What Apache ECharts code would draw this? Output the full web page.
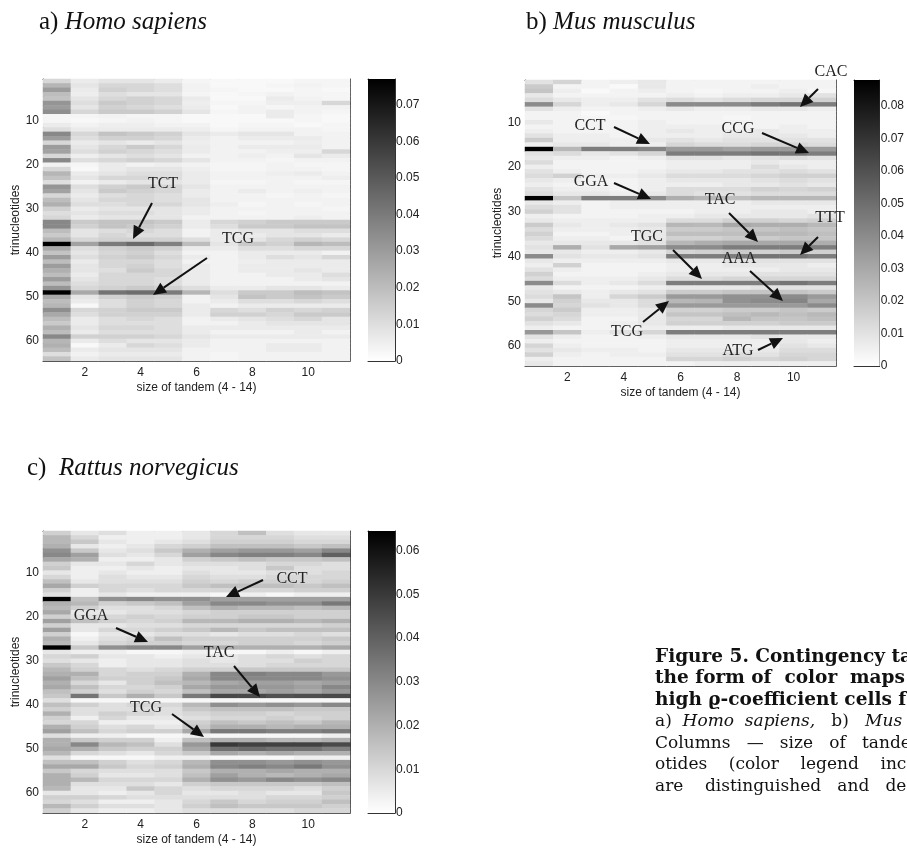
<!DOCTYPE html>
<html><head><meta charset="utf-8">
<script src="https://cdn.jsdelivr.net/npm/echarts@6/dist/echarts.min.js"></script>
<style>html,body{margin:0;padding:0;background:#fff}#c{width:907px;height:848px}</style>
</head><body><div id="c"></div>
<script>
// ---------------- DATA ----------------
const sizeCategories = ['1','2','3','4','5','6','7','8','9','10','11'];
const trinucleotideCategories = ['1','2','3','4','5','6','7','8','9','10','11','12','13','14','15','16','17','18','19','20','21','22','23','24','25','26','27','28','29','30','31','32','33','34','35','36','37','38','39','40','41','42','43','44','45','46','47','48','49','50','51','52','53','54','55','56','57','58','59','60','61','62','63','64'];

const homoMax = 0.077;
const musMax = 0.088;
const rattusMax = 0.0645;

const homoSapiens = [
[0.012,0.006,0.008,0.008,0.006,0.003,0.002,0.002,0.002,0.003,0.003],
[0.022,0.008,0.012,0.012,0.010,0.004,0.002,0.002,0.003,0.004,0.003],
[0.030,0.006,0.014,0.012,0.010,0.004,0.003,0.002,0.002,0.003,0.002],
[0.020,0.005,0.010,0.008,0.008,0.003,0.002,0.003,0.004,0.003,0.003],
[0.018,0.008,0.012,0.014,0.012,0.006,0.002,0.002,0.006,0.004,0.003],
[0.032,0.010,0.016,0.014,0.012,0.005,0.003,0.003,0.005,0.005,0.012],
[0.030,0.008,0.014,0.012,0.010,0.006,0.002,0.004,0.003,0.004,0.004],
[0.034,0.012,0.016,0.016,0.014,0.008,0.003,0.004,0.006,0.004,0.003],
[0.003,0.003,0.004,0.003,0.003,0.002,0.002,0.002,0.006,0.003,0.002],
[0.003,0.002,0.003,0.004,0.003,0.002,0.002,0.002,0.002,0.003,0.002],
[0.006,0.004,0.005,0.005,0.004,0.004,0.002,0.003,0.003,0.002,0.003],
[0.010,0.006,0.006,0.006,0.006,0.005,0.003,0.004,0.004,0.004,0.003],
[0.036,0.012,0.018,0.016,0.014,0.008,0.006,0.008,0.008,0.004,0.004],
[0.030,0.010,0.014,0.014,0.012,0.006,0.004,0.006,0.006,0.006,0.004],
[0.012,0.006,0.008,0.006,0.008,0.005,0.004,0.004,0.004,0.005,0.004],
[0.030,0.008,0.012,0.016,0.012,0.006,0.004,0.006,0.006,0.006,0.004],
[0.028,0.010,0.014,0.012,0.010,0.006,0.004,0.004,0.005,0.005,0.012],
[0.012,0.005,0.008,0.010,0.008,0.004,0.004,0.005,0.004,0.008,0.006],
[0.036,0.010,0.012,0.014,0.012,0.008,0.004,0.004,0.003,0.004,0.004],
[0.004,0.003,0.006,0.004,0.005,0.004,0.003,0.003,0.004,0.003,0.003],
[0.012,0.002,0.006,0.008,0.008,0.005,0.003,0.003,0.004,0.004,0.003],
[0.022,0.006,0.008,0.010,0.010,0.006,0.004,0.004,0.005,0.006,0.004],
[0.018,0.008,0.012,0.012,0.010,0.006,0.004,0.004,0.004,0.004,0.005],
[0.010,0.004,0.006,0.008,0.008,0.006,0.003,0.003,0.004,0.003,0.003],
[0.032,0.010,0.014,0.016,0.012,0.008,0.004,0.004,0.004,0.004,0.004],
[0.028,0.008,0.016,0.014,0.012,0.006,0.004,0.006,0.004,0.005,0.004],
[0.012,0.006,0.010,0.012,0.010,0.006,0.004,0.004,0.003,0.004,0.003],
[0.020,0.008,0.012,0.012,0.010,0.008,0.004,0.004,0.004,0.004,0.004],
[0.024,0.010,0.010,0.012,0.012,0.008,0.005,0.003,0.004,0.003,0.004],
[0.014,0.006,0.008,0.008,0.008,0.006,0.004,0.004,0.004,0.004,0.003],
[0.010,0.008,0.010,0.010,0.008,0.006,0.004,0.003,0.004,0.004,0.004],
[0.012,0.006,0.008,0.008,0.008,0.004,0.004,0.004,0.004,0.005,0.004],
[0.036,0.016,0.018,0.018,0.016,0.006,0.012,0.014,0.016,0.016,0.016],
[0.036,0.014,0.018,0.016,0.014,0.006,0.010,0.016,0.016,0.018,0.018],
[0.020,0.008,0.010,0.012,0.010,0.004,0.006,0.008,0.008,0.010,0.010],
[0.016,0.008,0.012,0.010,0.010,0.004,0.006,0.006,0.008,0.008,0.006],
[0.022,0.012,0.014,0.014,0.014,0.010,0.006,0.008,0.012,0.014,0.012],
[0.077,0.028,0.040,0.045,0.038,0.020,0.008,0.016,0.014,0.022,0.020],
[0.026,0.010,0.014,0.016,0.014,0.006,0.006,0.010,0.010,0.012,0.012],
[0.018,0.008,0.012,0.014,0.010,0.004,0.004,0.006,0.006,0.006,0.004],
[0.030,0.010,0.014,0.016,0.012,0.006,0.004,0.006,0.010,0.008,0.012],
[0.020,0.006,0.012,0.012,0.010,0.004,0.004,0.005,0.006,0.006,0.006],
[0.030,0.008,0.012,0.014,0.010,0.006,0.004,0.006,0.006,0.006,0.006],
[0.024,0.008,0.010,0.016,0.012,0.006,0.004,0.006,0.006,0.008,0.006],
[0.020,0.006,0.012,0.012,0.012,0.006,0.004,0.004,0.006,0.006,0.010],
[0.030,0.008,0.012,0.012,0.010,0.006,0.004,0.004,0.004,0.006,0.008],
[0.020,0.010,0.012,0.012,0.010,0.006,0.004,0.004,0.004,0.004,0.004],
[0.032,0.012,0.014,0.016,0.014,0.010,0.006,0.006,0.008,0.008,0.006],
[0.077,0.026,0.042,0.044,0.040,0.022,0.010,0.016,0.016,0.020,0.018],
[0.026,0.008,0.014,0.016,0.014,0.004,0.008,0.018,0.016,0.018,0.016],
[0.020,0.006,0.010,0.014,0.012,0.004,0.006,0.010,0.010,0.012,0.010],
[0.022,0.002,0.010,0.014,0.012,0.006,0.004,0.006,0.006,0.006,0.006],
[0.034,0.012,0.014,0.016,0.016,0.006,0.012,0.010,0.014,0.012,0.014],
[0.026,0.010,0.014,0.014,0.014,0.006,0.014,0.014,0.012,0.016,0.016],
[0.020,0.006,0.010,0.012,0.010,0.004,0.006,0.008,0.010,0.012,0.008],
[0.016,0.006,0.010,0.010,0.010,0.004,0.004,0.006,0.008,0.008,0.008],
[0.024,0.008,0.012,0.012,0.010,0.006,0.006,0.006,0.006,0.006,0.006],
[0.020,0.006,0.010,0.010,0.010,0.006,0.004,0.004,0.004,0.006,0.004],
[0.036,0.014,0.014,0.014,0.012,0.008,0.006,0.006,0.006,0.006,0.006],
[0.022,0.006,0.010,0.008,0.008,0.006,0.004,0.004,0.004,0.004,0.004],
[0.024,0.002,0.006,0.012,0.010,0.006,0.004,0.004,0.006,0.006,0.004],
[0.020,0.006,0.008,0.008,0.008,0.004,0.004,0.004,0.006,0.006,0.004],
[0.010,0.004,0.006,0.006,0.006,0.004,0.003,0.004,0.004,0.004,0.004],
[0.018,0.006,0.008,0.008,0.008,0.004,0.003,0.004,0.004,0.004,0.004]
];

const musMusculus = [
[0.010,0.015,0.004,0.006,0.008,0.004,0.004,0.004,0.004,0.004,0.004],
[0.018,0.004,0.004,0.002,0.008,0.004,0.004,0.004,0.006,0.004,0.004],
[0.020,0.006,0.002,0.004,0.006,0.004,0.003,0.004,0.004,0.006,0.003],
[0.008,0.004,0.004,0.004,0.004,0.006,0.004,0.006,0.006,0.008,0.010],
[0.012,0.008,0.006,0.006,0.010,0.012,0.010,0.012,0.014,0.014,0.016],
[0.040,0.014,0.006,0.008,0.014,0.040,0.040,0.040,0.045,0.048,0.045],
[0.010,0.006,0.004,0.004,0.006,0.008,0.006,0.006,0.008,0.008,0.006],
[0.004,0.004,0.002,0.004,0.004,0.004,0.004,0.004,0.004,0.004,0.004],
[0.004,0.004,0.003,0.003,0.004,0.004,0.004,0.003,0.004,0.004,0.004],
[0.008,0.004,0.004,0.004,0.006,0.004,0.004,0.004,0.004,0.004,0.004],
[0.004,0.004,0.004,0.004,0.006,0.006,0.006,0.004,0.004,0.006,0.004],
[0.006,0.004,0.004,0.004,0.006,0.008,0.006,0.006,0.008,0.006,0.006],
[0.010,0.006,0.006,0.004,0.006,0.006,0.006,0.008,0.008,0.008,0.006],
[0.018,0.006,0.006,0.006,0.008,0.010,0.008,0.010,0.010,0.010,0.010],
[0.006,0.008,0.008,0.006,0.006,0.014,0.012,0.012,0.014,0.014,0.012],
[0.088,0.025,0.045,0.045,0.042,0.035,0.035,0.032,0.035,0.035,0.035],
[0.010,0.012,0.008,0.010,0.014,0.045,0.045,0.045,0.048,0.048,0.045],
[0.008,0.006,0.006,0.004,0.006,0.010,0.010,0.008,0.010,0.012,0.010],
[0.012,0.004,0.004,0.004,0.004,0.006,0.006,0.006,0.008,0.006,0.006],
[0.006,0.004,0.004,0.004,0.004,0.006,0.006,0.006,0.012,0.008,0.006],
[0.010,0.006,0.004,0.004,0.006,0.008,0.008,0.010,0.010,0.012,0.010],
[0.012,0.016,0.006,0.006,0.008,0.012,0.012,0.012,0.014,0.016,0.016],
[0.008,0.006,0.004,0.004,0.006,0.008,0.008,0.008,0.010,0.012,0.010],
[0.006,0.004,0.004,0.004,0.006,0.006,0.006,0.008,0.008,0.010,0.008],
[0.010,0.006,0.006,0.004,0.006,0.012,0.012,0.012,0.016,0.014,0.016],
[0.012,0.008,0.008,0.006,0.008,0.012,0.010,0.010,0.012,0.012,0.012],
[0.088,0.020,0.045,0.045,0.040,0.028,0.025,0.022,0.025,0.025,0.025],
[0.008,0.006,0.004,0.006,0.006,0.006,0.006,0.006,0.008,0.008,0.008],
[0.012,0.010,0.004,0.006,0.006,0.006,0.006,0.006,0.006,0.006,0.006],
[0.016,0.010,0.004,0.004,0.004,0.004,0.006,0.006,0.008,0.008,0.006],
[0.006,0.004,0.004,0.004,0.006,0.006,0.008,0.008,0.008,0.008,0.010],
[0.008,0.006,0.006,0.006,0.006,0.012,0.012,0.016,0.016,0.014,0.016],
[0.018,0.008,0.006,0.008,0.010,0.025,0.024,0.030,0.028,0.028,0.024],
[0.012,0.006,0.006,0.006,0.008,0.018,0.018,0.020,0.020,0.022,0.020],
[0.016,0.004,0.004,0.006,0.008,0.022,0.022,0.022,0.024,0.024,0.022],
[0.012,0.006,0.006,0.004,0.008,0.016,0.016,0.018,0.018,0.020,0.020],
[0.008,0.008,0.008,0.008,0.010,0.025,0.028,0.030,0.030,0.030,0.028],
[0.010,0.028,0.010,0.030,0.032,0.040,0.040,0.045,0.045,0.045,0.045],
[0.008,0.008,0.006,0.006,0.008,0.014,0.016,0.018,0.016,0.018,0.016],
[0.040,0.010,0.008,0.008,0.010,0.045,0.045,0.045,0.048,0.048,0.045],
[0.008,0.006,0.006,0.006,0.006,0.008,0.008,0.010,0.010,0.010,0.010],
[0.006,0.016,0.004,0.004,0.004,0.006,0.006,0.008,0.008,0.008,0.006],
[0.010,0.006,0.004,0.004,0.004,0.006,0.006,0.006,0.006,0.008,0.008],
[0.016,0.004,0.004,0.004,0.006,0.008,0.008,0.008,0.010,0.010,0.010],
[0.012,0.006,0.006,0.006,0.008,0.012,0.012,0.014,0.014,0.014,0.014],
[0.040,0.012,0.006,0.008,0.012,0.045,0.045,0.045,0.045,0.048,0.045],
[0.008,0.004,0.004,0.004,0.006,0.008,0.008,0.008,0.010,0.010,0.010],
[0.010,0.008,0.006,0.008,0.010,0.018,0.018,0.020,0.020,0.020,0.018],
[0.012,0.020,0.006,0.014,0.018,0.035,0.035,0.038,0.038,0.040,0.035],
[0.008,0.016,0.008,0.008,0.012,0.025,0.026,0.038,0.040,0.042,0.030],
[0.040,0.014,0.010,0.008,0.012,0.035,0.035,0.035,0.035,0.035,0.040],
[0.014,0.018,0.006,0.006,0.008,0.016,0.016,0.018,0.018,0.020,0.018],
[0.012,0.014,0.006,0.006,0.008,0.020,0.020,0.022,0.024,0.022,0.024],
[0.016,0.012,0.004,0.004,0.008,0.014,0.014,0.025,0.020,0.020,0.022],
[0.010,0.008,0.004,0.006,0.008,0.016,0.016,0.016,0.016,0.018,0.018],
[0.006,0.004,0.004,0.004,0.006,0.006,0.006,0.008,0.008,0.008,0.008],
[0.036,0.020,0.006,0.010,0.014,0.045,0.045,0.045,0.045,0.045,0.045],
[0.010,0.006,0.004,0.004,0.006,0.008,0.008,0.008,0.010,0.008,0.008],
[0.006,0.004,0.004,0.004,0.004,0.006,0.006,0.006,0.006,0.008,0.006],
[0.014,0.006,0.004,0.004,0.004,0.006,0.006,0.006,0.006,0.010,0.008],
[0.010,0.008,0.006,0.006,0.004,0.008,0.008,0.008,0.008,0.012,0.012],
[0.016,0.006,0.004,0.006,0.006,0.010,0.010,0.012,0.010,0.014,0.014],
[0.006,0.004,0.004,0.004,0.004,0.014,0.014,0.016,0.014,0.016,0.014],
[0.008,0.004,0.004,0.004,0.004,0.004,0.006,0.006,0.006,0.006,0.006]
];

const rattusNorvegicus = [
[0.012,0.006,0.008,0.004,0.004,0.006,0.010,0.016,0.008,0.006,0.006],
[0.018,0.010,0.004,0.004,0.004,0.006,0.010,0.010,0.010,0.008,0.008],
[0.018,0.014,0.006,0.004,0.006,0.008,0.012,0.012,0.012,0.010,0.010],
[0.020,0.006,0.004,0.006,0.010,0.012,0.016,0.016,0.016,0.014,0.016],
[0.028,0.014,0.006,0.008,0.014,0.020,0.024,0.026,0.026,0.024,0.030],
[0.030,0.024,0.008,0.006,0.010,0.024,0.030,0.032,0.032,0.030,0.040],
[0.022,0.020,0.004,0.004,0.006,0.012,0.014,0.016,0.014,0.014,0.016],
[0.012,0.006,0.006,0.010,0.006,0.008,0.008,0.008,0.010,0.010,0.008],
[0.014,0.004,0.004,0.006,0.004,0.006,0.006,0.008,0.014,0.008,0.008],
[0.006,0.004,0.006,0.004,0.004,0.008,0.006,0.006,0.008,0.008,0.010],
[0.010,0.004,0.008,0.006,0.006,0.010,0.008,0.008,0.010,0.010,0.010],
[0.016,0.006,0.008,0.008,0.008,0.012,0.010,0.012,0.012,0.010,0.012],
[0.022,0.012,0.010,0.010,0.010,0.014,0.016,0.016,0.016,0.014,0.016],
[0.012,0.004,0.010,0.008,0.010,0.010,0.010,0.010,0.010,0.012,0.012],
[0.008,0.004,0.006,0.004,0.004,0.004,0.002,0.004,0.002,0.004,0.004],
[0.0645,0.016,0.028,0.030,0.028,0.028,0.024,0.024,0.024,0.024,0.024],
[0.020,0.018,0.012,0.014,0.016,0.024,0.030,0.030,0.028,0.028,0.034],
[0.018,0.012,0.008,0.008,0.010,0.016,0.020,0.018,0.018,0.016,0.018],
[0.022,0.006,0.006,0.008,0.008,0.010,0.012,0.012,0.012,0.012,0.012],
[0.012,0.008,0.010,0.012,0.010,0.012,0.012,0.014,0.014,0.012,0.012],
[0.024,0.016,0.012,0.010,0.012,0.018,0.018,0.020,0.020,0.018,0.020],
[0.012,0.006,0.006,0.008,0.008,0.010,0.010,0.010,0.010,0.010,0.012],
[0.024,0.006,0.010,0.010,0.012,0.014,0.018,0.014,0.016,0.016,0.016],
[0.012,0.002,0.006,0.006,0.008,0.008,0.006,0.008,0.008,0.010,0.008],
[0.020,0.004,0.008,0.010,0.016,0.012,0.012,0.012,0.012,0.012,0.014],
[0.018,0.006,0.010,0.012,0.012,0.010,0.010,0.012,0.012,0.010,0.012],
[0.0645,0.014,0.028,0.030,0.030,0.024,0.020,0.020,0.020,0.020,0.022],
[0.006,0.004,0.004,0.002,0.002,0.004,0.002,0.002,0.004,0.002,0.004],
[0.010,0.012,0.006,0.006,0.004,0.006,0.006,0.008,0.010,0.008,0.010],
[0.008,0.006,0.004,0.006,0.006,0.008,0.006,0.008,0.008,0.012,0.010],
[0.014,0.010,0.004,0.006,0.006,0.008,0.008,0.008,0.010,0.010,0.010],
[0.018,0.012,0.010,0.008,0.010,0.012,0.012,0.014,0.014,0.014,0.014],
[0.020,0.020,0.010,0.012,0.012,0.020,0.030,0.032,0.030,0.030,0.026],
[0.024,0.016,0.012,0.012,0.014,0.022,0.030,0.030,0.030,0.030,0.028],
[0.020,0.010,0.006,0.012,0.016,0.018,0.022,0.024,0.024,0.022,0.024],
[0.022,0.016,0.010,0.010,0.012,0.022,0.026,0.026,0.026,0.024,0.030],
[0.016,0.012,0.008,0.012,0.010,0.016,0.022,0.022,0.024,0.022,0.026],
[0.014,0.035,0.014,0.020,0.014,0.034,0.046,0.046,0.044,0.045,0.046],
[0.008,0.002,0.002,0.002,0.002,0.002,0.002,0.002,0.002,0.002,0.002],
[0.016,0.012,0.008,0.010,0.010,0.018,0.028,0.026,0.028,0.026,0.030],
[0.012,0.008,0.008,0.008,0.008,0.014,0.016,0.016,0.016,0.014,0.014],
[0.020,0.008,0.012,0.010,0.008,0.010,0.012,0.012,0.010,0.012,0.012],
[0.012,0.004,0.010,0.006,0.006,0.008,0.010,0.010,0.012,0.010,0.012],
[0.010,0.010,0.004,0.004,0.004,0.012,0.016,0.014,0.016,0.014,0.018],
[0.020,0.012,0.008,0.010,0.006,0.014,0.020,0.020,0.018,0.020,0.020],
[0.024,0.016,0.010,0.012,0.012,0.022,0.034,0.034,0.032,0.032,0.034],
[0.008,0.004,0.004,0.002,0.002,0.004,0.002,0.002,0.002,0.002,0.004],
[0.020,0.014,0.012,0.012,0.004,0.016,0.020,0.020,0.018,0.018,0.020],
[0.020,0.030,0.018,0.016,0.008,0.026,0.050,0.048,0.048,0.048,0.046],
[0.022,0.020,0.014,0.012,0.012,0.022,0.036,0.038,0.036,0.036,0.032],
[0.018,0.010,0.008,0.006,0.010,0.014,0.022,0.020,0.022,0.020,0.020],
[0.008,0.002,0.002,0.002,0.004,0.004,0.002,0.002,0.002,0.004,0.004],
[0.016,0.016,0.012,0.008,0.010,0.018,0.028,0.028,0.026,0.028,0.026],
[0.022,0.022,0.014,0.010,0.012,0.020,0.030,0.032,0.030,0.034,0.028],
[0.014,0.010,0.008,0.008,0.008,0.014,0.020,0.020,0.022,0.020,0.020],
[0.020,0.012,0.006,0.006,0.008,0.016,0.024,0.020,0.018,0.020,0.022],
[0.020,0.018,0.010,0.010,0.010,0.020,0.028,0.026,0.030,0.028,0.030],
[0.020,0.008,0.008,0.008,0.006,0.012,0.014,0.014,0.014,0.014,0.016],
[0.018,0.006,0.006,0.014,0.010,0.008,0.010,0.010,0.010,0.008,0.012],
[0.006,0.006,0.004,0.006,0.010,0.006,0.006,0.008,0.006,0.006,0.014],
[0.012,0.012,0.010,0.008,0.008,0.008,0.008,0.008,0.010,0.010,0.012],
[0.010,0.008,0.004,0.004,0.006,0.010,0.014,0.010,0.012,0.012,0.016],
[0.018,0.012,0.008,0.008,0.006,0.012,0.016,0.014,0.014,0.014,0.012],
[0.012,0.006,0.004,0.004,0.006,0.008,0.008,0.008,0.008,0.010,0.010]
];

const panelTitles = [['a)', 'Homo sapiens'], ['b)', 'Mus musculus'], ['c)', 'Rattus norvegicus']];
const xAxisName = 'size of tandem (4 - 14)';
const yAxisName = 'trinucleotides';

// ---------------- LAYOUT ----------------
const panels = [
  {data: homoSapiens, max: homoMax,
   grid: {left: 43, top: 79, width: 307, height: 282},
   bar: {left: 368, top: 79, width: 27, height: 282},
   title: {x: 39, y: 22}},
  {data: musMusculus, max: musMax,
   grid: {left: 525, top: 80, width: 311, height: 286},
   bar: {left: 854, top: 80, width: 28, height: 286},
   title: {x: 526, y: 22}},
  {data: rattusNorvegicus, max: rattusMax,
   grid: {left: 43, top: 531, width: 307, height: 282},
   bar: {left: 368, top: 531, width: 27, height: 282},
   title: {x: 27, y: 468}}
];

// annotation layout (pixels): label centre, arrow tail, arrow head tip
const annotations = [
  ['TCT', 163, 184, 152, 203, 133, 239],
  ['TCG', 238, 239, 207, 258, 153, 295],
  ['CAC', 831, 72, 818, 89, 800, 107],
  ['CCT', 590, 126, 614, 127, 650, 144],
  ['CCG', 738, 129, 762, 133, 809, 153],
  ['GGA', 591, 182, 614, 183, 651, 199],
  ['TAC', 720, 200, 729, 213, 758, 242],
  ['TTT', 830, 218, 818, 237, 800, 255],
  ['TGC', 647, 237, 673, 250, 702, 279],
  ['AAA', 739, 259, 750, 271, 783, 301],
  ['TCG', 627, 332, 643, 322, 669, 301],
  ['ATG', 738, 351, 758, 350, 783, 338],
  ['CCT', 292, 579, 263, 580, 226, 597],
  ['GGA', 91, 616, 116, 628, 148, 642],
  ['TAC', 219, 653, 234, 666, 260, 697],
  ['TCG', 146, 708, 172, 714, 204, 737]
];

// caption (justified spacing approximated with extra spaces)
const captionLines = [
  '{b|Figure 5. Contingency tables}',
  '{b|the form of  color  maps}',
  '{b|high \u03f1-coefficient cells for}',
  '{r|a)  }{i|Homo  sapiens,}{r|   b)   }{i|Mus}',
  '{r|Columns   \u2014   size   of   tandem}',
  '{r|otides    (color    legend    includes}',
  '{r|are    distinguished   and   denoted}'
];

// ---------------- BUILD ----------------
const AX = '#333';
const sans = '"Liberation Sans", Arial, sans-serif';
const serif = '"Liberation Serif", "Times New Roman", serif';
const capFont = '"DejaVu Serif", serif';
const grids = [], xAxes = [], yAxes = [], series = [], visualMaps = [], graphics = [];

const xEvery2 = (i) => (i + 1) % 2 === 0;
const yEvery10 = (i) => (i + 1) % 10 === 0;
const line = {show: true, onZero: false, lineStyle: {color: AX, width: 1}};

panels.forEach((p, i) => {
  const g = grids.length;
  grids.push(Object.assign({containLabel: false}, p.grid));
  grids.push(Object.assign({containLabel: false}, p.bar));
  const xa = xAxes.length, ya = yAxes.length;
  xAxes.push({type: 'category', gridIndex: g, data: sizeCategories, position: 'bottom',
    axisLine: line, splitLine: {show: false},
    axisTick: {show: true, inside: true, length: 4, alignWithLabel: true, interval: xEvery2, lineStyle: {color: AX}},
    axisLabel: {interval: xEvery2, color: '#222', fontFamily: sans, fontSize: 12, margin: 6},
    name: xAxisName, nameLocation: 'middle', nameGap: 21,
    nameTextStyle: {color: '#222', fontFamily: sans, fontSize: 12}});
  xAxes.push({type: 'category', gridIndex: g, data: sizeCategories, position: 'top',
    axisLine: line, splitLine: {show: false}, axisLabel: {show: false},
    axisTick: {show: true, inside: true, length: 4, alignWithLabel: true, interval: xEvery2, lineStyle: {color: AX}}});
  yAxes.push({type: 'category', gridIndex: g, data: trinucleotideCategories, inverse: true, position: 'left',
    axisLine: line, splitLine: {show: false},
    axisTick: {show: true, inside: true, length: 4, alignWithLabel: true, interval: yEvery10, lineStyle: {color: AX}},
    axisLabel: {interval: yEvery10, color: '#222', fontFamily: sans, fontSize: 12, margin: 4},
    name: yAxisName, nameLocation: 'middle', nameGap: 21, nameRotate: 90,
    nameTextStyle: {color: '#222', fontFamily: sans, fontSize: 12}});
  yAxes.push({type: 'category', gridIndex: g, data: trinucleotideCategories, inverse: true, position: 'right',
    axisLine: line, splitLine: {show: false}, axisLabel: {show: false},
    axisTick: {show: true, inside: true, length: 4, alignWithLabel: true, interval: yEvery10, lineStyle: {color: AX}}});
  xAxes.push({type: 'category', gridIndex: g + 1, data: ['c'], position: 'bottom',
    axisLine: line, axisTick: {show: false}, axisLabel: {show: false}, splitLine: {show: false}});
  xAxes.push({type: 'category', gridIndex: g + 1, data: ['c'], position: 'top',
    axisLine: line, axisTick: {show: false}, axisLabel: {show: false}, splitLine: {show: false}});
  yAxes.push({type: 'value', gridIndex: g + 1, min: 0, max: p.max, position: 'left',
    axisLine: line, axisTick: {show: false}, axisLabel: {show: false}, splitLine: {show: false}});
  yAxes.push({type: 'value', gridIndex: g + 1, min: 0, max: p.max, interval: 0.01, position: 'right',
    axisLine: line, splitLine: {show: false},
    axisTick: {show: true, inside: true, length: 4, lineStyle: {color: AX}},
    axisLabel: {color: '#222', fontFamily: sans, fontSize: 12, margin: 1, showMaxLabel: false,
      formatter: (v) => v === 0 ? '0' : v.toFixed(2)}});

  const cells = [];
  p.data.forEach((row, r) => row.forEach((v, c) => cells.push([c, r, v])));
  visualMaps.push({type: 'continuous', show: false, min: 0, max: p.max, seriesIndex: series.length,
    inRange: {color: ['#ffffff', '#000000']}});
  series.push({type: 'heatmap', xAxisIndex: xa, yAxisIndex: ya, data: cells, silent: true,
    progressive: 0, emphasis: {disabled: true}});
  series.push({type: 'bar', xAxisIndex: xa + 2, yAxisIndex: ya + 3, data: [p.max], silent: true,
    barWidth: '100%', animation: false,
    itemStyle: {color: new echarts.graphic.LinearGradient(0, 0, 0, 1, [
      {offset: 0, color: '#000000'}, {offset: 1, color: '#ffffff'}])}});

  graphics.push({type: 'text', x: p.title.x, y: p.title.y, silent: true, z: 100,
    style: {text: '{u|' + panelTitles[i][0] + '} ' + (i === 2 ? ' ' : '') + '{it|' + panelTitles[i][1] + '}',
      textVerticalAlign: 'middle', verticalAlign: 'middle', fill: '#111',
      font: '25px ' + serif,
      rich: {u: {fontFamily: serif, fontSize: 25, fill: '#111'},
             it: {fontFamily: serif, fontSize: 25, fontStyle: 'italic', fill: '#111'}}}});
});

annotations.forEach(([t, tx, ty, x1, y1, x2, y2]) => {
  graphics.push({type: 'text', x: tx, y: ty, silent: true, z: 100,
    style: {text: t, textAlign: 'center', align: 'center', textVerticalAlign: 'middle', verticalAlign: 'middle',
      font: '16px ' + serif, fill: '#222'}});
  const dx = x2 - x1, dy = y2 - y1, len = Math.hypot(dx, dy);
  const ux = dx / len, uy = dy / len, L = 13, W = 6;
  const bx = x2 - ux * L, by = y2 - uy * L;
  graphics.push({type: 'line', silent: true, z: 100, shape: {x1: x1, y1: y1, x2: bx, y2: by},
    style: {stroke: '#111', lineWidth: 2}});
  graphics.push({type: 'polygon', silent: true, z: 100,
    shape: {points: [[x2, y2], [bx - uy * W, by + ux * W], [bx + uy * W, by - ux * W]]},
    style: {fill: '#111'}});
});

captionLines.forEach((txt, k) => {
  graphics.push({type: 'text', x: 655, y: 657 + k * 21.6, silent: true, z: 100,
    style: {text: txt, textVerticalAlign: 'middle', verticalAlign: 'middle', fill: '#111',
      font: '17px ' + capFont,
      rich: {b: {fontFamily: capFont, fontSize: 18.5, fontWeight: 'bold', fill: '#111'},
             r: {fontFamily: capFont, fontSize: 17, fill: '#111'},
             i: {fontFamily: capFont, fontSize: 17, fontStyle: 'italic', fill: '#111'}}}});
});

const chart = echarts.init(document.getElementById('c'), null, {renderer: 'canvas'});
chart.setOption({
  animation: false,
  backgroundColor: '#ffffff',
  grid: grids, xAxis: xAxes, yAxis: yAxes,
  visualMap: visualMaps, series: series, graphic: graphics
});
</script>
</body></html>
